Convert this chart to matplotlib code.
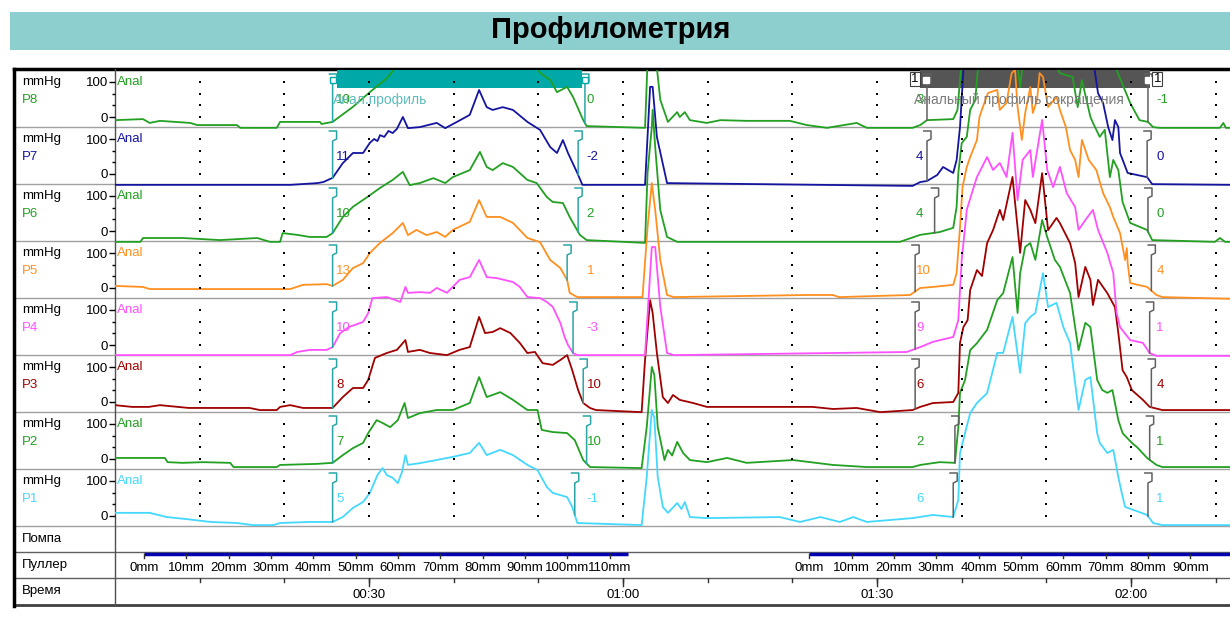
import numpy as np
import matplotlib.pyplot as plt
from matplotlib.patches import Rectangle

plt.rcParams['font.family'] = ['Liberation Sans', 'DejaVu Sans']

# размеры картинки и геометрия (в пикселях)
W, H = 1230, 620
X0, X1 = 115, 1230
Y0 = 70
ROW_PX = 57
PX_PER_S = 8.467
PX_PER_MMHG = 0.35
FS = 9.5

channels = ['P8', 'P7', 'P6', 'P5', 'P4', 'P3', 'P2', 'P1']
colors = ['#22a022', '#1414a0', '#22a022', '#ff9020', '#ff50ff', '#a00000', '#22a022', '#44d8ff']

# region Данные: (время, с ; давление, mmHg)
p8 = [(0, -9), (3.3, -6), (4.1, -17), (5.3, -11), (8.9, -17), (9.7, -23), (14.4, -23), (14.8, -31),
      (19.1, -31), (19.5, -14), (24.2, -14), (24.4, -20), (25.7, -14), (28.1, 29), (30.1, 71),
      (32.1, 111), (33.3, 146), (34.8, 170), (41.9, 190), (49.0, 170), (50.2, 126), (51.4, 106),
      (52.2, 71), (53.4, 86), (54.1, 57), (55.3, -9), (55.7, -26), (62.6, -31), (62.9, 160),
      (63.4, 250), (64.0, 140), (64.4, 49), (65.3, -14), (66.4, 14), (66.7, 0), (67.3, 14),
      (67.9, -9), (69.9, -17), (71.5, -9), (74.6, -11), (79.7, -11), (81.7, -23), (84.1, -31),
      (87.6, -17), (88.8, -31), (94.2, -31), (95.1, -23), (95.9, -9), (99.0, -6), (99.5, 20),
      (99.9, 134), (100.5, 200), (118.0, 200), (118.3, 134), (119.9, 40), (121.0, -9),
      (122.0, -14), (122.6, -29), (123.4, -31), (130.5, -31), (130.9, -17), (131.2, -31), (132, -31)]

p7 = [(0, -31), (20.7, -31), (23.9, -26), (24.6, -23), (25.7, -11), (26.9, 31), (28.1, 60),
      (29.3, 60), (30.1, 89), (30.6, 100), (31.0, 94), (31.3, 111), (31.8, 106), (32.3, 123),
      (32.8, 117), (33.3, 129), (34.0, 163), (34.6, 131), (36.0, 134), (38.0, 146), (39.0, 131),
      (40.4, 149), (41.9, 169), (43.0, 240), (43.9, 191), (44.6, 183), (45.8, 191), (47.0, 183),
      (48.7, 149), (50.2, 126), (51.4, 77), (52.2, 60), (52.9, 97), (53.5, 60), (54.6, 3),
      (55.2, -31), (62.6, -31), (63.2, 249), (63.5, 249), (64.0, 106), (65.2, -26), (94.2, -34),
      (95.1, -23), (95.9, -20), (97.1, -3), (97.8, 20), (99.0, 3), (99.4, 40), (99.8, 134),
      (100.2, 297), (101.0, 330), (115.0, 330), (115.7, 297), (116.1, 231), (116.7, 203),
      (117.3, 134), (117.8, 97), (118.1, 154), (118.5, 134), (118.7, 60), (119.6, 3),
      (121.9, -9), (122.5, -29), (132, -31)]

p6 = [(0, -31), (3.0, -31), (3.3, -20), (8.0, -20), (12.4, -26), (16.8, -20), (18.3, -31),
      (19.5, -31), (19.8, -6), (21.5, -11), (23.0, -17), (25.0, -17), (25.7, -6), (26.9, 40),
      (28.1, 69), (29.8, 97), (31.3, 123), (32.8, 146), (34.0, 169), (34.8, 131), (36.0, 137),
      (37.6, 151), (39.0, 137), (39.9, 154), (41.9, 174), (43.1, 226), (43.9, 183), (44.6, 174),
      (45.8, 194), (47.0, 183), (48.7, 146), (49.8, 137), (51.0, 97), (51.7, 83), (52.9, 80),
      (53.7, 40), (54.9, -11), (55.7, -26), (62.6, -34), (62.9, 166), (63.4, 297), (63.5, 346),
      (63.8, 240), (64.4, 60), (65.2, -17), (66.4, -31), (92.7, -31), (95.1, -11), (97.4, -3),
      (99.0, 9), (99.4, 69), (99.6, 166), (100.0, 251), (100.6, 269), (101.0, 346), (101.6, 374),
      (101.9, 460), (103.3, 503), (106.5, 489), (106.9, 411), (107.2, 474), (109.8, 466),
      (110.4, 503), (111.6, 451), (113.1, 440), (113.7, 354), (114.2, 431), (115.2, 326),
      (115.5, 309), (116.3, 269), (116.9, 289), (117.5, 154), (117.9, 203), (118.5, 174),
      (119.0, 83), (119.9, 23), (121.9, 3), (122.5, -26), (129.9, -31), (130.5, -20),
      (131.1, -31), (132, -31)]

p5 = [(0, 6), (3.3, 3), (4.1, -3), (20.7, -3), (22.2, 9), (25.0, 11), (25.7, 6), (26.9, 23),
      (28.1, 57), (29.3, 71), (30.1, 100), (31.3, 129), (32.8, 157), (34.0, 186), (34.6, 151),
      (35.6, 166), (36.8, 151), (38.0, 160), (39.0, 146), (39.9, 166), (41.9, 189), (43.0, 251),
      (43.9, 203), (45.5, 203), (47.0, 186), (48.7, 143), (50.2, 131), (51.4, 80), (52.6, 57),
      (53.4, 23), (53.7, -14), (54.6, -26), (62.3, -26), (62.9, 174), (63.4, 300), (63.8, 223),
      (64.4, 80), (65.2, -20), (66.0, -26), (81.7, -20), (84.8, -20), (85.5, -26), (93.9, -20),
      (95.1, 0), (96.6, 3), (99.0, 9), (99.4, 43), (99.8, 174), (100.1, 289), (100.6, 346),
      (101.0, 374), (101.8, 423), (102.1, 489), (102.5, 517), (103.1, 557), (104.2, 566),
      (104.5, 509), (105.3, 529), (105.9, 614), (106.3, 623), (106.6, 517), (107.1, 423),
      (107.5, 500), (108.1, 574), (108.4, 500), (108.9, 537), (109.2, 614), (109.6, 603),
      (110.2, 517), (111.2, 546), (111.6, 509), (112.3, 460), (112.8, 394), (113.4, 366),
      (113.8, 317), (114.2, 423), (115.0, 366), (115.9, 337), (116.7, 271), (117.5, 231),
      (117.9, 203), (118.7, 157), (119.3, 80), (119.5, 114), (119.6, 71), (119.9, 14),
      (121.9, 3), (123.0, -20), (123.7, -26), (132, -31)]

p4 = [(0, -29), (20.7, -29), (21.5, -20), (23.0, -14), (25.0, -14), (25.7, -6), (26.6, 34),
      (27.6, 51), (29.3, 66), (29.9, 91), (30.4, 134), (32.1, 137), (33.7, 123), (34.3, 166),
      (34.6, 149), (36.0, 151), (37.2, 149), (38.0, 163), (39.2, 149), (40.7, 186), (41.9, 194),
      (43.0, 243), (43.9, 194), (45.1, 191), (47.0, 180), (47.8, 166), (48.7, 137), (50.2, 134),
      (51.0, 123), (51.7, 109), (52.6, 63), (53.1, 23), (53.5, 0), (54.1, -23), (54.6, -29),
      (62.6, -29), (63.4, 280), (63.8, 280), (64.4, 109), (65.2, -23), (66.0, -29), (93.5, -20),
      (95.1, -6), (96.6, 9), (99.0, 23), (99.6, 71), (100.0, 243), (100.6, 386), (101.2, 434),
      (101.8, 480), (103.0, 537), (103.7, 500), (104.5, 520), (105.3, 480), (106.0, 606),
      (106.6, 414), (107.2, 529), (108.1, 557), (108.4, 480), (109.5, 643), (110.1, 500),
      (110.8, 451), (111.6, 509), (112.4, 434), (113.4, 394), (113.8, 329), (114.6, 357),
      (115.5, 386), (116.1, 329), (117.2, 263), (117.9, 206), (118.3, 91), (118.7, 51),
      (119.9, 14), (121.4, 6), (122.2, -23), (123.0, -31), (132, -31)]

p3 = [(0, -9), (2.0, -14), (4.0, -14), (5.3, -9), (8.7, -17), (15.9, -17), (17.1, -23),
      (19.1, -23), (19.5, -14), (20.7, -9), (22.2, -17), (25.7, -17), (26.9, 14), (28.1, 40),
      (29.3, 40), (29.9, 63), (30.7, 126), (32.1, 140), (33.3, 149), (34.3, 177), (34.6, 143),
      (36.0, 149), (37.2, 140), (39.2, 134), (40.7, 149), (41.9, 157), (43.0, 243), (43.7, 197),
      (44.6, 200), (45.5, 211), (46.7, 197), (47.8, 169), (48.7, 140), (49.6, 143), (50.5, 111),
      (51.7, 106), (52.6, 120), (53.4, 134), (54.0, 91), (54.7, 34), (55.3, -3), (56.1, -17),
      (56.8, -23), (62.2, -29), (62.6, 120), (63.2, 291), (63.5, 254), (64.0, 140), (64.7, 14),
      (65.3, -3), (65.9, 20), (66.7, 6), (68.3, -3), (69.9, -14), (82.4, -14), (84.8, -20),
      (87.6, -17), (90.4, -29), (94.2, -23), (95.1, -14), (96.6, -3), (99.0, 0), (99.6, 26),
      (99.8, 169), (100.2, 214), (100.7, 234), (101.0, 320), (101.8, 377), (102.4, 360),
      (103.0, 454), (103.7, 491), (104.5, 549), (104.9, 520), (106.0, 643), (106.9, 426),
      (107.5, 577), (108.1, 549), (108.7, 511), (109.5, 654), (110.2, 491), (111.2, 526),
      (111.6, 511), (112.8, 454), (113.4, 397), (113.8, 300), (114.6, 386), (115.2, 349),
      (115.5, 277), (116.1, 349), (117.2, 311), (118.1, 271), (118.5, 197), (119.0, 91),
      (119.5, 71), (120.1, 34), (121.4, 6), (122.2, -14), (123.7, -23), (132, -23)]

p2 = [(0, 3), (5.9, 3), (6.2, -9), (8.0, -11), (10.4, -9), (13.6, -11), (14.0, -23), (19.1, -23),
      (19.5, -17), (23.8, -14), (25.7, -11), (26.9, 11), (28.1, 31), (29.3, 46), (29.9, 74),
      (30.9, 111), (31.6, 103), (32.5, 91), (33.4, 111), (34.2, 160), (34.6, 117), (36.0, 131),
      (38.0, 140), (39.9, 140), (41.9, 160), (43.0, 234), (43.9, 177), (45.5, 191), (47.0, 169),
      (48.7, 140), (49.9, 140), (50.4, 83), (51.7, 77), (53.4, 74), (54.3, 54), (55.3, -3),
      (56.1, -23), (62.2, -26), (62.8, 91), (63.4, 263), (63.7, 240), (64.1, 91), (64.9, -3),
      (65.3, 26), (65.8, 10), (66.4, 49), (67.1, 17), (67.9, -3), (69.9, -9), (72.3, 3),
      (74.6, -11), (80.1, -3), (84.8, -17), (88.8, -23), (94.2, -23), (95.1, -17), (97.4, -9),
      (99.2, -11), (99.6, 91), (99.8, 189), (100.4, 226), (101.0, 311), (101.8, 331),
      (103.0, 369), (104.2, 454), (104.9, 474), (106.0, 577), (106.6, 417), (106.9, 531),
      (107.5, 606), (108.1, 617), (108.7, 569), (109.5, 683), (110.1, 634), (111.0, 569),
      (111.6, 549), (112.8, 474), (113.8, 311), (114.6, 389), (115.2, 377), (116.0, 226),
      (116.6, 197), (117.2, 189), (117.8, 197), (118.5, 111), (119.0, 74), (120.1, 46),
      (120.7, 34), (121.9, 3), (123.0, -17), (123.7, -23), (132, -23)]

p1 = [(0, 9), (4.1, 9), (6.1, -3), (8.5, -9), (11.3, -17), (14.4, -20), (16.3, -26), (18.7, -26),
      (19.5, -20), (23.0, -17), (25.7, -17), (26.9, -3), (28.1, 23), (29.3, 40), (30.1, 66),
      (31.0, 117), (31.6, 137), (32.1, 117), (32.8, 109), (33.4, 94), (33.9, 126), (34.3, 174),
      (34.6, 146), (36.0, 151), (38.0, 160), (39.9, 169), (41.9, 180), (43.0, 209), (43.9, 174),
      (45.5, 189), (47.0, 174), (48.7, 146), (49.9, 131), (51.0, 83), (51.7, 66), (53.4, 54),
      (54.0, 26), (54.6, -20), (62.2, -26), (62.8, 111), (63.4, 303), (63.7, 280), (64.1, 111),
      (64.7, 26), (65.3, 9), (66.4, 37), (66.9, 20), (67.3, 40), (67.9, -3), (69.9, -6),
      (78.5, -3), (80.9, -17), (83.3, -3), (85.6, -17), (87.2, -3), (88.8, -17), (94.2, -6),
      (96.6, 3), (99.0, -3), (99.6, 46), (99.8, 180), (100.4, 237), (101.0, 294), (101.8, 323),
      (103.0, 351), (104.2, 466), (104.9, 466), (106.0, 569), (106.9, 409), (107.5, 551),
      (108.1, 569), (108.7, 580), (109.6, 694), (110.2, 597), (111.2, 609), (112.0, 540),
      (112.8, 494), (113.8, 303), (114.6, 389), (115.2, 397), (116.0, 237), (116.3, 209),
      (117.2, 180), (117.9, 189), (118.5, 111), (118.9, 66), (119.3, 26), (121.9, 3),
      (122.6, -20), (123.7, -26), (132, -26)]

traces = [p8, p7, p6, p5, p4, p3, p2, p1]

# профили (метки)
profile_names = ['Анал.профиль', 'Анальный профиль сокращения']
profile_bar = [(26.2, 55.2), (95.1, 122.2)]
profile_label_t = [(26.1, 55.7), (94.6, 123.0)]
p1_start_t = [25.7, 25.7, 25.7, 25.7, 25.7, 25.7, 25.7, 25.7]
p1_end_t = [55.5, 54.7, 54.7, 53.4, 54.1, 55.3, 55.7, 54.3]
p2_start_t = [95.9, 95.9, 96.8, 94.5, 94.5, 94.5, 99.2, 99.0]
p2_end_t = [122.0, 121.9, 122.0, 122.4, 122.2, 122.4, 122.2, 122.0]
p1_start_val = ['10', '11', '10', '13', '10', '8', '7', '5']
p1_end_val = ['0', '-2', '2', '1', '-3', '10', '10', '-1']
p2_start_val = ['3', '4', '4', '10', '9', '6', '2', '6']
p2_end_val = ['-1', '0', '0', '4', '1', '4', '1', '1']

# пуллер и время
pull_start = [3.43, 82.0]
pull_end = [60.6, 132.0]
pull_mm = [list(range(0, 120, 10)), list(range(0, 100, 10))]
pull_speed = 2.0
time_minor = list(range(10, 140, 10))
time_major = [30, 60, 90, 120]
# endregion

fig = plt.figure(figsize=(W / 100, H / 100), dpi=100)

# фон, рамка, подписи слева (пиксельные координаты)
bg = fig.add_axes([0, 0, 1, 1])
bg.set_xlim(0, W)
bg.set_ylim(H, 0)
bg.axis('off')
bg.add_patch(Rectangle((10, 12), 1220, 38, color='#8dcfcf', lw=0))
bg.text(611, 30, 'Профилометрия', fontsize=21, fontweight='bold', ha='center', va='center')

for k in range(1, 9):
    bg.plot([14, W], [Y0 + k * ROW_PX] * 2, color='#a0a0a0', lw=1)
bg.plot([14, W], [552, 552], color='#606060', lw=1)
bg.plot([14, W], [578, 578], color='#606060', lw=1)
bg.plot([14, W], [605, 605], color='#404040', lw=2)
bg.plot([14, W], [69, 69], color='black', lw=2.5)
bg.plot([14, 14], [69, 606], color='black', lw=2.5)
bg.plot([X0, X0], [69, 605], color='#505050', lw=1)

for k, name in enumerate(channels):
    top = Y0 + k * ROW_PX
    bg.text(22, top + 12, 'mmHg', fontsize=FS, va='center')
    bg.text(22, top + 30, name, fontsize=FS, va='center', color=colors[k])
    bg.text(117, top + 12, 'Anal', fontsize=FS, va='center', color=colors[k])
bg.text(22, 539, 'Помпа', fontsize=FS, va='center')
bg.text(22, 565, 'Пуллер', fontsize=FS, va='center')
bg.text(22, 591, 'Время', fontsize=FS, va='center')

# каналы давления
row = ROW_PX / PX_PER_MMHG
t_end = (X1 - X0) / PX_PER_S
ax = fig.add_axes([X0 / W, 1 - (Y0 + 8 * ROW_PX) / H, (X1 - X0) / W, 8 * ROW_PX / H])
ax.set_xlim(0, t_end)
ax.set_ylim(-8 * row, 0)
ax.patch.set_alpha(0)
for s in ax.spines.values():
    s.set_visible(False)
zeros = [-k * row - 47 / PX_PER_MMHG for k in range(8)]

major = []
major_lab = []
minor = []
for z in zeros:
    major += [z, z + 100]
    major_lab += ['0', '100']
    minor += [z + 33.3, z + 66.7]
ax.set_yticks(major, major_lab)
ax.set_yticks(minor, minor=True)
ax.tick_params(axis='y', which='major', length=4, width=1, pad=1, labelsize=FS)
ax.tick_params(axis='y', which='minor', length=2.5, width=1)
ax.tick_params(axis='x', bottom=False, labelbottom=False)

# полосы профилей сверху
bar_h = 18 / PX_PER_MMHG
bar_colors = ['#00a8a8', '#555555']
ax.add_patch(Rectangle((profile_bar[0][0], -bar_h), profile_bar[0][1] - profile_bar[0][0], bar_h,
                       color=bar_colors[0], lw=0, zorder=1))
ax.add_patch(Rectangle((profile_bar[1][0], -bar_h), profile_bar[1][1] - profile_bar[1][0], bar_h,
                       color=bar_colors[1], lw=0, zorder=1))

# точки сетки
gt = []
gy = []
for t in time_minor:
    for z in zeros:
        for lev in [0, 33.3, 66.7, 100]:
            gt.append(t)
            gy.append(z + lev)
ax.scatter(gt, gy, s=2.5, marker='s', color='black', linewidths=0, zorder=4)

# кривые
for k in range(7, -1, -1):
    t = np.array([p[0] for p in traces[k]])
    v = np.array([p[1] for p in traces[k]])
    ax.plot(t, zeros[k] + v, color=colors[k], lw=1.3, zorder=3)

# скобки меток
dx = 4 / PX_PER_S
px = 1 / PX_PER_MMHG
bracket_colors = ['#2aa5a5', '#606060']
all_times = [(p1_start_t, p1_end_t), (p2_start_t, p2_end_t)]
all_vals = [(p1_start_val, p1_end_val), (p2_start_val, p2_end_val)]
for p in range(2):
    for side in range(2):
        for k in range(8):
            tb = all_times[p][side][k]
            t = [q[0] for q in traces[k]]
            v = [q[1] for q in traces[k]]
            top = -k * row - 4 * px
            bottom = zeros[k] + np.interp(tb, t, v)
            bottom = min(max(bottom, -(k + 1) * row + px), top - 14 * px)
            ax.plot([tb - 0.8 * dx, tb + dx, tb + dx, tb, tb],
                    [top, top, top - 8 * px, top - 10 * px, bottom],
                    color=bracket_colors[p], lw=1.1, zorder=3.5)
            ax.text(profile_label_t[p][side], -k * row - 30 * px, all_vals[p][side][k],
                    color=colors[k], fontsize=FS, ha='left', va='center', zorder=5)

# квадраты на концах полос
ax.plot([25.7, 55.5], [-10 * px] * 2, 's', ms=5, mfc='white', mec=bar_colors[0], zorder=6)
ax.plot([95.8, 122.0], [-10 * px] * 2, 's', ms=5, mfc='white', mec='white', zorder=6)
for tl in [94.5, 123.1]:
    ax.text(tl, -9 * px, '1', fontsize=FS, ha='center', va='center', zorder=6,
            bbox=dict(boxstyle='square,pad=0.1', fc='white', ec='#404040', lw=0.8))

ax.text(25.7, -30 * px, profile_names[0], fontsize=10, color='#5cbcbc', ha='left', va='center', zorder=5)
ax.text(94.4, -30 * px, profile_names[1], fontsize=10, color='#7a7a7a', ha='left', va='center', zorder=5)

# пуллер
pa = fig.add_axes([X0 / W, 1 - 578 / H, (X1 - X0) / W, 26 / H])
pa.set_xlim(0, t_end)
pa.set_ylim(26, 0)
pa.axis('off')
for i in range(2):
    pa.plot([pull_start[i], pull_end[i]], [1.5, 1.5], color='#0000b0', lw=2.5, solid_capstyle='butt')
    for mm in pull_mm[i]:
        tm = pull_start[i] + mm / pull_speed
        pa.plot([tm, tm], [2, 6], color='#303030', lw=1)
        pa.text(tm, 16, f'{mm}mm', fontsize=FS, ha='center', va='center')

# время
ta = fig.add_axes([X0 / W, 1 - 605 / H, (X1 - X0) / W, 27 / H])
ta.set_xlim(0, t_end)
ta.set_ylim(27, 0)
ta.axis('off')
for t in time_minor:
    ta.plot([t, t], [0, 4], color='#303030', lw=1)
for t in time_major:
    ta.plot([t, t], [0, 8], color='#303030', lw=1)
    ta.text(t, 17, f'{t // 60:02d}:{t % 60:02d}', fontsize=FS, ha='center', va='center')

fig.savefig('out.png', dpi=100)
